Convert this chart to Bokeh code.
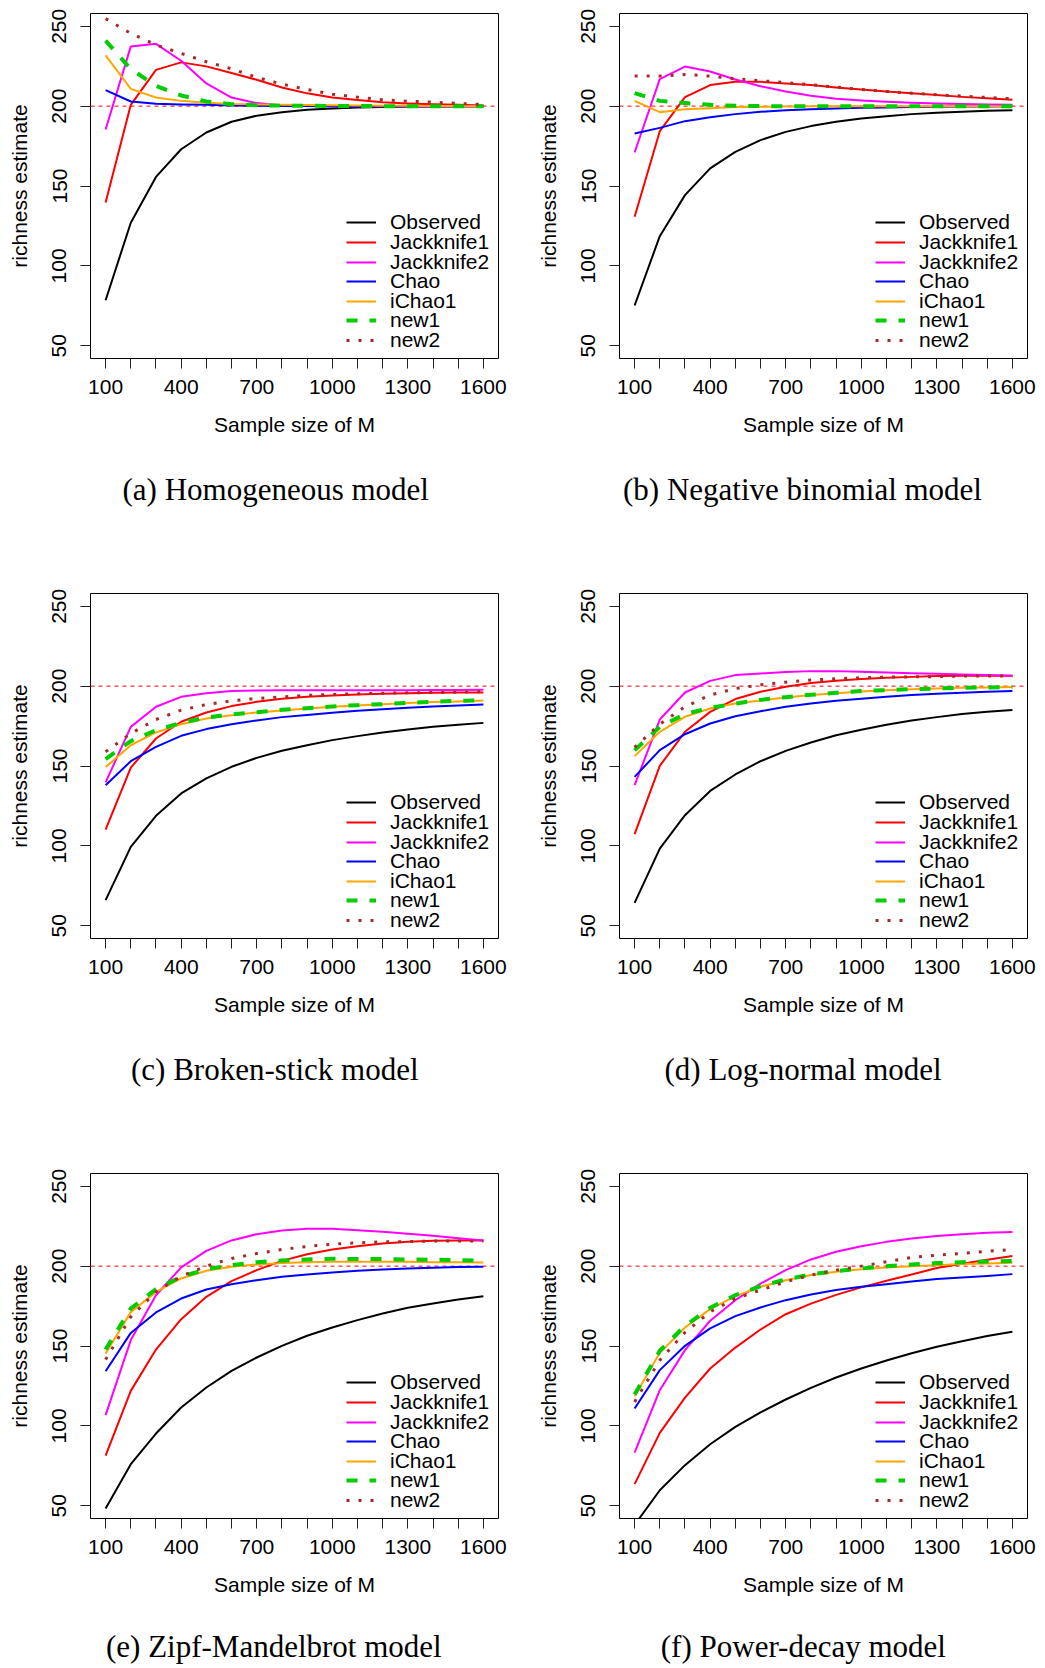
from bokeh.plotting import figure
from bokeh.models import FixedTicker, Span, Legend, LegendItem, LinearAxis, Title
from bokeh.layouts import column, row
from bokeh.embed import file_html
from bokeh.resources import INLINE

# ---------------- data ----------------
sample_size = [100, 200, 300, 400, 500, 600, 700, 800, 900, 1000, 1100, 1200, 1300, 1400, 1500, 1600]
x_tick_values = [100, 200, 300, 400, 500, 600, 700, 800, 900, 1000, 1100, 1200, 1300, 1400, 1500, 1600]
x_tick_labelled = [100, 400, 700, 1000, 1300, 1600]
y_tick_values = [50, 100, 150, 200, 250]
true_richness = 200

estimators = ["Observed", "Jackknife1", "Jackknife2", "Chao", "iChao1", "new1", "new2"]

captions = ["(a) Homogeneous model", "(b) Negative binomial model", "(c) Broken-stick model",
            "(d) Log-normal model", "(e) Zipf-Mandelbrot model", "(f) Power-decay model"]

# (a) Homogeneous
a_observed = [78.5, 127.0, 155.7, 173.0, 183.5, 190.2, 194.0, 196.2, 197.7, 198.5, 199.2, 199.5, 199.7, 199.8, 199.9, 200.0]
a_jack1 = [139.7, 200.8, 222.7, 227.4, 224.9, 220.7, 216.5, 211.7, 208.0, 205.4, 203.8, 202.5, 201.7, 201.2, 200.8, 200.4]
a_jack2 = [185.4, 237.4, 239.0, 228.4, 214.2, 205.4, 201.9, 200.4, 200.1, 200.0, 200.0, 200.0, 200.0, 200.0, 200.0, 200.0]
a_chao = [210.0, 202.9, 201.5, 201.0, 200.8, 200.4, 200.2, 200.1, 200.1, 200.0, 200.0, 200.0, 200.0, 200.0, 200.0, 200.0]
a_ichao1 = [231.8, 210.8, 205.4, 203.3, 202.1, 201.4, 201.1, 200.9, 200.7, 200.5, 200.4, 200.3, 200.2, 200.1, 200.1, 200.0]
a_new1 = [241.0, 223.2, 212.7, 206.7, 202.9, 201.2, 200.6, 200.3, 200.2, 200.1, 200.1, 200.0, 200.0, 200.0, 200.0, 200.0]
a_new2 = [254.8, 245.5, 238.4, 233.0, 227.8, 223.4, 218.0, 213.8, 210.4, 207.5, 205.6, 204.0, 203.1, 202.5, 201.7, 201.0]

# (b) Negative binomial
b_observed = [75.2, 118.6, 144.3, 161.0, 171.4, 178.7, 183.9, 187.5, 190.2, 192.3, 193.7, 195.0, 195.8, 196.5, 197.1, 197.5]
b_jack1 = [130.7, 184.3, 205.6, 213.2, 215.2, 215.2, 214.2, 213.2, 211.7, 210.4, 209.2, 208.0, 206.9, 205.8, 205.0, 204.0]
b_jack2 = [171.0, 216.9, 224.8, 221.7, 216.7, 212.5, 209.2, 206.5, 204.6, 203.5, 202.7, 202.1, 201.7, 201.3, 201.0, 200.8]
b_chao = [182.9, 186.4, 190.6, 193.1, 195.0, 196.5, 197.5, 198.1, 198.5, 199.0, 199.2, 199.4, 199.6, 199.7, 199.8, 199.9]
b_ichao1 = [203.3, 196.2, 198.1, 198.7, 199.4, 199.6, 199.8, 199.9, 200.0, 200.0, 200.0, 200.0, 200.0, 200.0, 200.0, 200.0]
b_new1 = [208.1, 203.3, 201.9, 200.8, 200.2, 200.0, 200.0, 200.0, 200.0, 200.0, 200.0, 200.0, 200.0, 200.0, 200.0, 200.0]
b_new2 = [218.8, 218.8, 219.8, 218.8, 217.1, 215.9, 214.8, 213.4, 211.9, 210.4, 209.2, 208.1, 207.1, 206.3, 205.4, 204.6]

# (c) Broken-stick
c_observed = [66.0, 99.4, 118.8, 132.8, 142.2, 149.5, 155.1, 159.5, 163.0, 166.2, 168.7, 171.0, 172.9, 174.5, 175.8, 177.0]
c_jack1 = [110.2, 149.0, 167.2, 177.7, 183.5, 187.5, 190.2, 192.1, 193.3, 194.2, 194.8, 195.2, 195.6, 195.8, 196.0, 196.0]
c_jack2 = [139.7, 174.5, 187.1, 193.3, 195.6, 196.9, 197.3, 197.5, 197.5, 197.5, 197.5, 197.5, 197.5, 197.6, 197.6, 197.7]
c_chao = [138.0, 153.0, 162.0, 168.9, 173.1, 176.2, 178.5, 180.6, 182.0, 183.3, 184.6, 185.6, 186.4, 187.3, 187.9, 188.5]
c_ichao1 = [149.3, 163.0, 171.0, 176.2, 179.7, 181.8, 183.5, 184.8, 186.0, 187.1, 187.9, 188.7, 189.4, 190.0, 190.4, 191.0]
c_new1 = [154.3, 165.6, 172.4, 177.0, 180.4, 182.3, 183.7, 185.2, 186.2, 187.3, 188.1, 188.7, 189.6, 190.2, 190.8, 191.2]
c_new2 = [158.9, 170.4, 179.1, 185.0, 188.5, 190.8, 192.3, 193.3, 194.2, 194.8, 195.2, 195.6, 195.8, 196.0, 196.2, 196.5]

# (d) Log-normal
d_observed = [64.3, 98.3, 119.2, 134.4, 144.7, 153.0, 159.5, 164.7, 169.3, 172.7, 175.8, 178.5, 180.6, 182.5, 183.9, 185.0]
d_jack1 = [107.3, 150.1, 171.4, 183.9, 191.9, 196.5, 199.6, 201.9, 203.3, 204.4, 205.2, 205.8, 206.3, 206.5, 206.5, 206.5]
d_jack2 = [138.0, 179.1, 196.0, 203.3, 206.9, 207.9, 208.8, 209.4, 209.4, 209.0, 208.6, 208.1, 207.7, 207.3, 206.9, 206.5]
d_chao = [143.2, 159.9, 169.9, 176.6, 181.2, 184.3, 187.1, 189.1, 190.8, 192.1, 193.3, 194.4, 195.2, 195.8, 196.5, 196.9]
d_ichao1 = [156.2, 171.4, 180.8, 186.0, 189.1, 191.0, 192.9, 194.4, 195.6, 196.7, 197.5, 198.1, 198.5, 199.0, 199.2, 199.4]
d_new1 = [159.9, 174.5, 182.5, 186.4, 189.1, 191.4, 193.1, 194.6, 195.8, 196.9, 197.5, 198.1, 198.5, 199.0, 199.2, 199.4]
d_new2 = [161.6, 176.2, 187.1, 194.4, 198.5, 200.8, 202.5, 203.8, 204.6, 205.2, 205.6, 205.8, 206.0, 206.3, 206.3, 206.3]

# (e) Zipf-Mandelbrot
e_observed = [48.2, 76.0, 95.2, 111.5, 124.0, 134.4, 142.8, 150.1, 156.4, 161.6, 166.2, 170.4, 173.9, 176.6, 179.1, 181.2]
e_jack1 = [81.4, 121.9, 147.8, 166.8, 180.8, 190.6, 197.5, 203.3, 207.5, 210.4, 212.5, 214.2, 215.2, 215.9, 216.1, 216.1]
e_jack2 = [106.7, 153.7, 181.8, 199.2, 209.6, 216.1, 220.0, 222.3, 223.4, 223.4, 222.5, 221.5, 220.3, 219.0, 217.5, 216.1]
e_chao = [134.2, 158.2, 171.0, 179.7, 185.4, 188.7, 191.2, 193.3, 194.8, 196.0, 197.1, 197.9, 198.5, 199.0, 199.4, 199.6]
e_ichao1 = [145.3, 171.2, 183.9, 192.3, 197.1, 199.6, 201.0, 201.9, 202.5, 202.7, 202.7, 202.7, 202.7, 202.5, 202.5, 202.3]
e_new1 = [147.8, 173.5, 185.6, 193.3, 198.1, 200.6, 202.5, 203.5, 204.2, 204.6, 204.4, 204.4, 204.2, 204.0, 203.8, 203.3]
e_new2 = [141.5, 168.3, 183.9, 193.7, 200.0, 204.8, 207.9, 210.4, 212.3, 213.8, 214.6, 215.2, 215.4, 215.7, 215.7, 215.7]

# (f) Power-decay
f_observed = [38.0, 59.7, 75.4, 88.5, 99.4, 108.4, 116.5, 123.8, 130.3, 135.9, 140.9, 145.5, 149.5, 153.0, 156.2, 158.9]
f_jack1 = [63.5, 95.6, 117.7, 135.9, 149.0, 160.3, 169.9, 176.5, 182.0, 186.7, 190.8, 194.8, 198.8, 201.5, 204.0, 206.3]
f_jack2 = [83.3, 122.3, 147.4, 165.8, 178.7, 189.1, 197.5, 204.2, 209.0, 212.5, 215.2, 217.3, 218.8, 220.0, 220.9, 221.3]
f_chao = [110.9, 134.9, 150.1, 161.0, 168.7, 174.1, 178.7, 182.3, 185.0, 187.1, 188.7, 190.4, 191.9, 192.9, 193.9, 195.0]
f_ichao1 = [118.6, 145.7, 161.6, 173.1, 181.2, 187.1, 191.2, 194.4, 196.5, 198.1, 199.2, 200.0, 200.6, 201.3, 201.7, 202.1]
f_new1 = [119.6, 147.0, 162.6, 173.9, 181.8, 187.5, 191.6, 194.8, 196.9, 198.5, 200.0, 201.0, 201.9, 202.5, 202.9, 203.3]
f_new2 = [115.0, 141.1, 158.5, 171.4, 179.7, 185.0, 190.2, 194.4, 197.5, 200.0, 202.7, 205.4, 206.9, 207.9, 209.4, 210.4]

panel_series = [
    [a_observed, a_jack1, a_jack2, a_chao, a_ichao1, a_new1, a_new2],
    [b_observed, b_jack1, b_jack2, b_chao, b_ichao1, b_new1, b_new2],
    [c_observed, c_jack1, c_jack2, c_chao, c_ichao1, c_new1, c_new2],
    [d_observed, d_jack1, d_jack2, d_chao, d_ichao1, d_new1, d_new2],
    [e_observed, e_jack1, e_jack2, e_chao, e_ichao1, e_new1, e_new2],
    [f_observed, f_jack1, f_jack2, f_chao, f_ichao1, f_new1, f_new2],
]

# ---------------- styles / layout ----------------
line_styles = {
    "Observed":   dict(color="#000000", width=2, dash="solid"),
    "Jackknife1": dict(color="#FF0000", width=2, dash="solid"),
    "Jackknife2": dict(color="#FF00FF", width=2, dash="solid"),
    "Chao":       dict(color="#0000FF", width=2, dash="solid"),
    "iChao1":     dict(color="#FFA500", width=2, dash="solid"),
    "new1":       dict(color="#00CD00", width=4, dash="11 12"),
    "new2":       dict(color="#A52A2A", width=3, dash="3 9"),
}

SANS = "Liberation Sans"
SERIF = "Liberation Serif"
caption_offsets = [32, 3.5, 40.5, 45, 15.5, 41.3]   # px from frame left to caption start
LEGEND_X = 256
LEGEND_BASE = 6.3
LEGEND_PITCH = 19.55


def make_panel(caption, series, right_border, bottom_border, spacer, cap_offset):
    p = figure(frame_width=408, frame_height=345,
               x_range=(40, 1660), y_range=(42, 258),
               min_border_left=90, min_border_right=right_border,
               min_border_top=13, min_border_bottom=bottom_border,
               output_backend="svg", toolbar_location=None,
               background_fill_color="white", border_fill_color="white",
               outline_line_color="black", outline_line_width=1)
    p.grid.visible = False

    p.xaxis.ticker = FixedTicker(ticks=x_tick_values)
    p.xaxis.major_label_overrides = {t: (str(t) if t in x_tick_labelled else "") for t in x_tick_values}
    p.yaxis.ticker = FixedTicker(ticks=y_tick_values)
    p.yaxis.major_label_orientation = "vertical"

    for ax in (p.xaxis[0], p.yaxis[0]):
        ax.axis_line_color = None
        ax.major_tick_line_color = "#222222"
        ax.major_tick_line_width = 1
        ax.major_tick_out = 10
        ax.major_tick_in = 0
        ax.minor_tick_line_color = None
        ax.major_label_text_font = SANS
        ax.major_label_text_font_size = "21px"
        ax.major_label_text_color = "black"
        ax.axis_label_text_font = SANS
        ax.axis_label_text_font_size = "21px"
        ax.axis_label_text_font_style = "normal"
        ax.axis_label_text_color = "black"

    p.xaxis.axis_label = "Sample size of M"
    p.yaxis.axis_label = "richness estimate"
    p.xaxis.major_label_standoff = 11
    p.xaxis.axis_label_standoff = 16
    p.yaxis.major_label_standoff = 14
    p.yaxis.axis_label_standoff = 19

    # invisible spacer between the x axis and the caption (one hidden tick sets its depth)
    spacer_axis = LinearAxis(ticker=FixedTicker(ticks=[x_tick_values[0]]), axis_line_color=None,
                             major_tick_line_color=None, minor_tick_line_color=None,
                             major_tick_out=spacer, major_tick_in=0, minor_tick_out=0, minor_tick_in=0,
                             major_label_overrides={x_tick_values[0]: ""},
                             major_label_text_font_size="0px", major_label_standoff=0)
    p.add_layout(spacer_axis, "below")

    cap = Title(text=caption, align="left", offset=cap_offset, vertical_align="top",
                text_font=SERIF, text_font_size="31px", text_font_style="normal",
                text_color="black")
    if "standoff" in cap.properties():
        cap.standoff = 0
    p.add_layout(cap, "below")

    p.add_layout(Span(location=true_richness, dimension="width", line_color="#FF0000",
                      line_dash="4 4", line_width=1, level="underlay"))

    n = len(estimators)
    for k, (name, ys) in enumerate(zip(estimators, series)):
        st = line_styles[name]
        r = p.line(sample_size, ys, line_color=st["color"], line_width=st["width"],
                   line_dash=st["dash"], line_join="round")
        legend = Legend(items=[LegendItem(label=name, renderers=[r])],
                        location=(LEGEND_X, LEGEND_BASE + (n - 1 - k) * LEGEND_PITCH),
                        orientation="vertical",
                        glyph_width=30, glyph_height=20, label_standoff=14, label_height=20,
                        spacing=0, padding=0, margin=0,
                        border_line_color=None, background_fill_alpha=0,
                        label_text_font=SANS, label_text_font_size="21px", label_text_color="black")
        p.add_layout(legend)
    return p


figs = []
for i, (cap, ser) in enumerate(zip(captions, panel_series)):
    right_border = 31 if i % 2 == 0 else 18
    bottom_border = 222 if i < 4 else 150
    spacer = 33 if i < 4 else 30
    figs.append(make_panel(cap, ser, right_border, bottom_border, spacer, caption_offsets[i]))

layout = column(row(figs[0], figs[1]), row(figs[2], figs[3]), row(figs[4], figs[5]))

open("out.html", "w").write(file_html(layout, INLINE, "richness estimates"))
